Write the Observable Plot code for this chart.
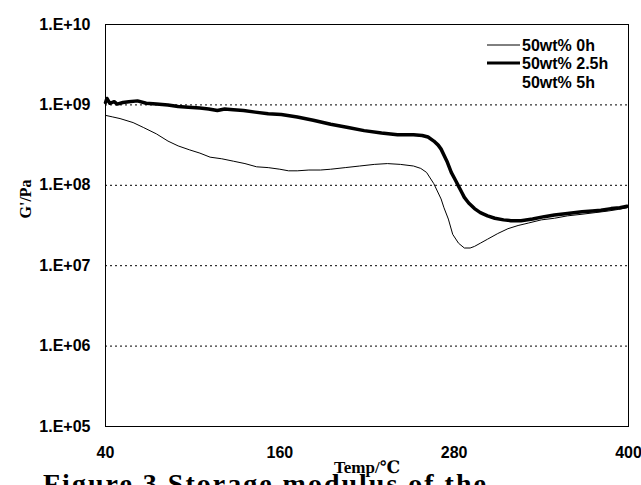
<!DOCTYPE html>
<html><head><meta charset="utf-8">
<script src="https://cdn.jsdelivr.net/npm/d3@7"></script>
<script src="https://cdn.jsdelivr.net/npm/@observablehq/plot@0.6"></script>
<style>
body{margin:0;background:#fff;overflow:hidden;}
#wrap{position:relative;width:641px;height:485px;overflow:hidden;}
#cap{position:absolute;left:43px;top:470px;font-family:"Liberation Serif","DejaVu Serif",serif;font-weight:bold;font-size:28px;white-space:nowrap;line-height:1;letter-spacing:2px;}
</style></head>
<body><div id="wrap"><div id="chart"></div><div id="cap">Figure 3 Storage modulus of the</div></div>
<script>
// series: temperature (°C) and log10(G'/Pa)
const temp0h = [40,45,50,59,66,75,83,90,98,105,112,120,128,136,144,152,160,166,172,180,188,195,205,215,225,234,243,252,257,261,266,271,273,276,279,283,287,291,294,298,303,310,317,324,331,340,349,358,368,377,386,393,399];
const logG0h = [8.87,8.85,8.83,8.78,8.72,8.64,8.55,8.49,8.44,8.40,8.35,8.33,8.30,8.27,8.23,8.22,8.20,8.18,8.18,8.19,8.19,8.20,8.22,8.24,8.26,8.27,8.26,8.24,8.21,8.16,8.02,7.83,7.72,7.58,7.39,7.28,7.22,7.22,7.24,7.28,7.33,7.40,7.46,7.50,7.53,7.57,7.59,7.62,7.64,7.66,7.68,7.70,7.72];
const temp25h = [40,41,43,46,48,52,56,62,68,75,83,90,97,105,111,117,122,128,135,143,152,161,172,183,195,207,218,230,241,252,258,262,266,269,271,275,278,281,283,285,287,290,294,298,303,308,314,319,326,334,342,349,358,368,375,381,388,394,399];
const logG25h = [9.03,9.08,9.02,9.04,9.01,9.03,9.04,9.05,9.02,9.01,9.00,8.98,8.97,8.96,8.95,8.93,8.95,8.94,8.93,8.91,8.89,8.88,8.85,8.81,8.76,8.72,8.68,8.65,8.63,8.63,8.62,8.60,8.55,8.50,8.45,8.30,8.16,8.06,7.99,7.92,7.85,7.78,7.71,7.66,7.62,7.59,7.57,7.56,7.56,7.58,7.61,7.63,7.65,7.67,7.68,7.69,7.71,7.72,7.74];
const yTicks = [1e5,1e6,1e7,1e8,1e9,1e10];
const gridY = [1e6,1e7,1e8,1e9];
const xTicks = [40,160,280,400];
const seriesNames = ["50wt% 0h","50wt% 2.5h","50wt% 5h"];

const d0 = temp0h.map((t,i)=>({t, g: Math.pow(10, logG0h[i])}));
const d25 = temp25h.map((t,i)=>({t, g: Math.pow(10, logG25h[i])}));

const sans = "'Liberation Sans', Arial, sans-serif";
const serif = "'Liberation Serif','DejaVu Serif', serif";

const chart = Plot.plot({
  width: 641, height: 485,
  marginLeft: 105, marginRight: 13, marginTop: 24, marginBottom: 59,
  style: {fontFamily: sans, fontSize: "16px", fontWeight: "bold", background: "#fff", color: "#000"},
  x: {domain: [40,400], ticks: xTicks, tickSize: 0, tickPadding: 20, label: null},
  y: {type: "log", domain: [1e5,1e10], ticks: yTicks, tickSize: 0, tickPadding: 15, label: null,
      tickFormat: d => "1.E+" + String(Math.round(Math.log10(d))).padStart(2,"0")},
  marks: [
    Plot.ruleY(gridY, {stroke: "#000", strokeWidth: 1, strokeDasharray: "2,3"}),
    Plot.frame({stroke: "#000", strokeWidth: 1}),
    Plot.line(d0, {x: "t", y: "g", stroke: "#000", strokeWidth: 1}),
    Plot.line(d25, {x: "t", y: "g", stroke: "#000", strokeWidth: 3.5}),
    Plot.text(["G'/Pa"], {frameAnchor: "left", dx: -80, dy: -7, rotate: -90, fontFamily: serif, fontSize: 16, fontWeight: "bold"}),
    Plot.text(["Temp/℃"], {frameAnchor: "bottom", dy: 46, fontFamily: serif, fontSize: 17, fontWeight: "bold"})
  ]
});
document.getElementById("chart").appendChild(chart);

// legend
const svg = d3.select(chart);
const leg = svg.append("g").attr("font-family", sans).attr("font-size", 16).attr("font-weight", "bold").attr("text-anchor", "start");
const legY = [45, 63, 82];
const legW = [1, 3, null];
seriesNames.forEach((name, i) => {
  if (legW[i]) leg.append("line").attr("x1", 487).attr("x2", 520).attr("y1", legY[i]).attr("y2", legY[i]).attr("stroke", "#000").attr("stroke-width", legW[i]);
  leg.append("text").attr("x", 522).attr("y", legY[i]).attr("dy", "0.35em").attr("text-anchor", "start").text(name);
});
</script>
</body></html>
